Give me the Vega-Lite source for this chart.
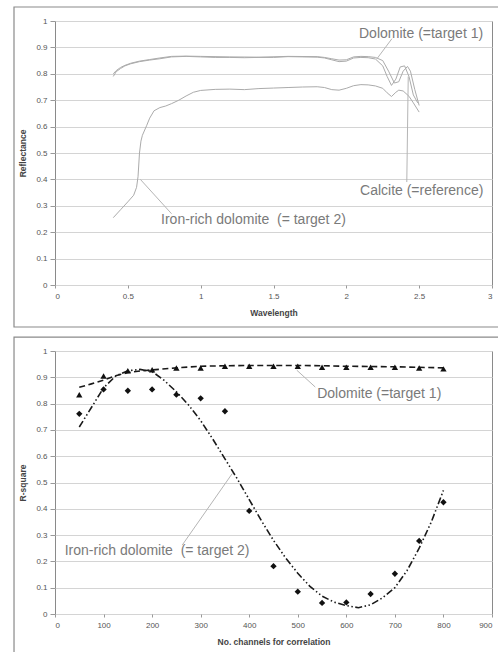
{
  "$schema": "https://vega.github.io/schema/vega-lite/v6.json",
  "padding": {"left": 12, "top": 5, "right": 0, "bottom": 0},
  "background": "white",
  "config": {
    "font": "Liberation Sans",
    "view": {"stroke": "#8a8a8a", "strokeWidth": 1},
    "axis": {
      "labelFont": "Liberation Sans", "labelFontSize": 8, "labelColor": "#555",
      "titleFont": "Liberation Sans", "titleFontSize": 8.5, "titleFontWeight": "bold", "titleColor": "#444",
      "domain": false, "tickColor": "#999", "gridColor": "#d4d4d4", "gridWidth": 1, "labelOverlap": false
    },
    "axisY": {"tickCount": 10}
  },
  "datasets": {
    "spectra": [
      {"series": "Dolomite", "wl": 0.40, "r": 0.790}, {"series": "Dolomite", "wl": 0.42, "r": 0.808}, {"series": "Dolomite", "wl": 0.45, "r": 0.820}, {"series": "Dolomite", "wl": 0.48, "r": 0.830}, {"series": "Dolomite", "wl": 0.52, "r": 0.838}, {"series": "Dolomite", "wl": 0.58, "r": 0.846}, {"series": "Dolomite", "wl": 0.65, "r": 0.852}, {"series": "Dolomite", "wl": 0.72, "r": 0.857}, {"series": "Dolomite", "wl": 0.80, "r": 0.864}, {"series": "Dolomite", "wl": 0.90, "r": 0.866}, {"series": "Dolomite", "wl": 1.00, "r": 0.864}, {"series": "Dolomite", "wl": 1.10, "r": 0.862}, {"series": "Dolomite", "wl": 1.20, "r": 0.862}, {"series": "Dolomite", "wl": 1.30, "r": 0.861}, {"series": "Dolomite", "wl": 1.40, "r": 0.862}, {"series": "Dolomite", "wl": 1.50, "r": 0.862}, {"series": "Dolomite", "wl": 1.60, "r": 0.865}, {"series": "Dolomite", "wl": 1.70, "r": 0.864}, {"series": "Dolomite", "wl": 1.80, "r": 0.863}, {"series": "Dolomite", "wl": 1.85, "r": 0.860}, {"series": "Dolomite", "wl": 1.90, "r": 0.853}, {"series": "Dolomite", "wl": 1.95, "r": 0.846}, {"series": "Dolomite", "wl": 2.00, "r": 0.848}, {"series": "Dolomite", "wl": 2.05, "r": 0.860}, {"series": "Dolomite", "wl": 2.10, "r": 0.862}, {"series": "Dolomite", "wl": 2.15, "r": 0.861}, {"series": "Dolomite", "wl": 2.20, "r": 0.856}, {"series": "Dolomite", "wl": 2.25, "r": 0.830}, {"series": "Dolomite", "wl": 2.28, "r": 0.790}, {"series": "Dolomite", "wl": 2.31, "r": 0.756}, {"series": "Dolomite", "wl": 2.34, "r": 0.780}, {"series": "Dolomite", "wl": 2.37, "r": 0.826}, {"series": "Dolomite", "wl": 2.40, "r": 0.830}, {"series": "Dolomite", "wl": 2.43, "r": 0.790}, {"series": "Dolomite", "wl": 2.46, "r": 0.720}, {"series": "Dolomite", "wl": 2.49, "r": 0.690},
      {"series": "Calcite", "wl": 0.40, "r": 0.800}, {"series": "Calcite", "wl": 0.42, "r": 0.812}, {"series": "Calcite", "wl": 0.45, "r": 0.824}, {"series": "Calcite", "wl": 0.48, "r": 0.832}, {"series": "Calcite", "wl": 0.52, "r": 0.840}, {"series": "Calcite", "wl": 0.58, "r": 0.848}, {"series": "Calcite", "wl": 0.65, "r": 0.854}, {"series": "Calcite", "wl": 0.72, "r": 0.860}, {"series": "Calcite", "wl": 0.80, "r": 0.866}, {"series": "Calcite", "wl": 0.90, "r": 0.867}, {"series": "Calcite", "wl": 1.00, "r": 0.866}, {"series": "Calcite", "wl": 1.20, "r": 0.864}, {"series": "Calcite", "wl": 1.40, "r": 0.863}, {"series": "Calcite", "wl": 1.60, "r": 0.866}, {"series": "Calcite", "wl": 1.80, "r": 0.865}, {"series": "Calcite", "wl": 1.85, "r": 0.862}, {"series": "Calcite", "wl": 1.90, "r": 0.857}, {"series": "Calcite", "wl": 1.95, "r": 0.852}, {"series": "Calcite", "wl": 2.00, "r": 0.853}, {"series": "Calcite", "wl": 2.05, "r": 0.864}, {"series": "Calcite", "wl": 2.10, "r": 0.866}, {"series": "Calcite", "wl": 2.15, "r": 0.865}, {"series": "Calcite", "wl": 2.20, "r": 0.862}, {"series": "Calcite", "wl": 2.25, "r": 0.850}, {"series": "Calcite", "wl": 2.29, "r": 0.810}, {"series": "Calcite", "wl": 2.33, "r": 0.765}, {"series": "Calcite", "wl": 2.36, "r": 0.770}, {"series": "Calcite", "wl": 2.39, "r": 0.810}, {"series": "Calcite", "wl": 2.42, "r": 0.828}, {"series": "Calcite", "wl": 2.44, "r": 0.810}, {"series": "Calcite", "wl": 2.47, "r": 0.740}, {"series": "Calcite", "wl": 2.50, "r": 0.680},
      {"series": "Iron-rich", "wl": 0.40, "r": 0.255}, {"series": "Iron-rich", "wl": 0.45, "r": 0.285}, {"series": "Iron-rich", "wl": 0.50, "r": 0.315}, {"series": "Iron-rich", "wl": 0.54, "r": 0.340}, {"series": "Iron-rich", "wl": 0.56, "r": 0.370}, {"series": "Iron-rich", "wl": 0.57, "r": 0.410}, {"series": "Iron-rich", "wl": 0.58, "r": 0.500}, {"series": "Iron-rich", "wl": 0.59, "r": 0.545}, {"series": "Iron-rich", "wl": 0.60, "r": 0.567}, {"series": "Iron-rich", "wl": 0.63, "r": 0.605}, {"series": "Iron-rich", "wl": 0.65, "r": 0.632}, {"series": "Iron-rich", "wl": 0.68, "r": 0.660}, {"series": "Iron-rich", "wl": 0.72, "r": 0.672}, {"series": "Iron-rich", "wl": 0.76, "r": 0.678}, {"series": "Iron-rich", "wl": 0.80, "r": 0.687}, {"series": "Iron-rich", "wl": 0.85, "r": 0.700}, {"series": "Iron-rich", "wl": 0.90, "r": 0.716}, {"series": "Iron-rich", "wl": 0.95, "r": 0.730}, {"series": "Iron-rich", "wl": 1.00, "r": 0.737}, {"series": "Iron-rich", "wl": 1.10, "r": 0.741}, {"series": "Iron-rich", "wl": 1.20, "r": 0.742}, {"series": "Iron-rich", "wl": 1.30, "r": 0.740}, {"series": "Iron-rich", "wl": 1.40, "r": 0.744}, {"series": "Iron-rich", "wl": 1.50, "r": 0.746}, {"series": "Iron-rich", "wl": 1.60, "r": 0.748}, {"series": "Iron-rich", "wl": 1.70, "r": 0.750}, {"series": "Iron-rich", "wl": 1.80, "r": 0.751}, {"series": "Iron-rich", "wl": 1.85, "r": 0.748}, {"series": "Iron-rich", "wl": 1.90, "r": 0.740}, {"series": "Iron-rich", "wl": 1.95, "r": 0.738}, {"series": "Iron-rich", "wl": 2.00, "r": 0.745}, {"series": "Iron-rich", "wl": 2.05, "r": 0.755}, {"series": "Iron-rich", "wl": 2.10, "r": 0.759}, {"series": "Iron-rich", "wl": 2.15, "r": 0.758}, {"series": "Iron-rich", "wl": 2.20, "r": 0.754}, {"series": "Iron-rich", "wl": 2.25, "r": 0.745}, {"series": "Iron-rich", "wl": 2.28, "r": 0.728}, {"series": "Iron-rich", "wl": 2.31, "r": 0.714}, {"series": "Iron-rich", "wl": 2.34, "r": 0.730}, {"series": "Iron-rich", "wl": 2.36, "r": 0.738}, {"series": "Iron-rich", "wl": 2.39, "r": 0.735}, {"series": "Iron-rich", "wl": 2.43, "r": 0.715}, {"series": "Iron-rich", "wl": 2.46, "r": 0.690}, {"series": "Iron-rich", "wl": 2.50, "r": 0.655}
    ],
    "topLabels": [
      {"label": "Dolomite (=target 1)", "wl": 2.087, "r": 0.951},
      {"label": "Calcite (=reference)", "wl": 2.094, "r": 0.356},
      {"label": "Iron-rich dolomite \u00a0(= target 2)", "wl": 0.728, "r": 0.246}
    ],
    "topLeaders": [
      {"wl": 2.313, "r": 0.933, "wl2": 2.21, "r2": 0.857},
      {"wl": 2.425, "r": 0.79, "wl2": 2.415, "r2": 0.39},
      {"wl": 0.586, "r": 0.40, "wl2": 0.80, "r2": 0.27}
    ],
    "frameTop": [
      {"x": -0.2815, "x2": 3.2, "y": 1.053, "y2": -0.159}
    ],
    "frameBottom": [
      {"x": -84.4, "x2": 960, "y": 1.053, "y2": -0.3}
    ],
    "points": [
      {"series": "Dolomite", "n": 50, "r2": 0.834}, {"series": "Dolomite", "n": 100, "r2": 0.905}, {"series": "Dolomite", "n": 150, "r2": 0.925}, {"series": "Dolomite", "n": 200, "r2": 0.929}, {"series": "Dolomite", "n": 250, "r2": 0.935}, {"series": "Dolomite", "n": 300, "r2": 0.935}, {"series": "Dolomite", "n": 350, "r2": 0.942}, {"series": "Dolomite", "n": 400, "r2": 0.942}, {"series": "Dolomite", "n": 450, "r2": 0.942}, {"series": "Dolomite", "n": 500, "r2": 0.942}, {"series": "Dolomite", "n": 550, "r2": 0.938}, {"series": "Dolomite", "n": 600, "r2": 0.938}, {"series": "Dolomite", "n": 650, "r2": 0.938}, {"series": "Dolomite", "n": 700, "r2": 0.938}, {"series": "Dolomite", "n": 750, "r2": 0.935}, {"series": "Dolomite", "n": 800, "r2": 0.932},
      {"series": "Iron-rich", "n": 50, "r2": 0.761}, {"series": "Iron-rich", "n": 100, "r2": 0.854}, {"series": "Iron-rich", "n": 150, "r2": 0.849}, {"series": "Iron-rich", "n": 200, "r2": 0.854}, {"series": "Iron-rich", "n": 250, "r2": 0.834}, {"series": "Iron-rich", "n": 300, "r2": 0.820}, {"series": "Iron-rich", "n": 350, "r2": 0.771}, {"series": "Iron-rich", "n": 400, "r2": 0.392}, {"series": "Iron-rich", "n": 450, "r2": 0.182}, {"series": "Iron-rich", "n": 500, "r2": 0.085}, {"series": "Iron-rich", "n": 550, "r2": 0.042}, {"series": "Iron-rich", "n": 600, "r2": 0.044}, {"series": "Iron-rich", "n": 650, "r2": 0.076}, {"series": "Iron-rich", "n": 700, "r2": 0.153}, {"series": "Iron-rich", "n": 750, "r2": 0.278}, {"series": "Iron-rich", "n": 800, "r2": 0.425}
    ],
    "trendDol": [
      {"n": 50, "r2": 0.862}, {"n": 75, "r2": 0.875}, {"n": 100, "r2": 0.889}, {"n": 125, "r2": 0.906}, {"n": 150, "r2": 0.918}, {"n": 175, "r2": 0.924}, {"n": 200, "r2": 0.928}, {"n": 250, "r2": 0.936}, {"n": 300, "r2": 0.942}, {"n": 350, "r2": 0.944}, {"n": 400, "r2": 0.945}, {"n": 450, "r2": 0.945}, {"n": 500, "r2": 0.945}, {"n": 550, "r2": 0.944}, {"n": 600, "r2": 0.942}, {"n": 650, "r2": 0.941}, {"n": 700, "r2": 0.940}, {"n": 750, "r2": 0.938}, {"n": 800, "r2": 0.936}
    ],
    "trendIron": [
      {"n": 50, "r2": 0.711}, {"n": 75, "r2": 0.785}, {"n": 100, "r2": 0.860}, {"n": 125, "r2": 0.905}, {"n": 150, "r2": 0.925}, {"n": 175, "r2": 0.930}, {"n": 200, "r2": 0.922}, {"n": 225, "r2": 0.888}, {"n": 250, "r2": 0.845}, {"n": 275, "r2": 0.795}, {"n": 300, "r2": 0.735}, {"n": 325, "r2": 0.665}, {"n": 350, "r2": 0.590}, {"n": 375, "r2": 0.515}, {"n": 400, "r2": 0.435}, {"n": 425, "r2": 0.355}, {"n": 450, "r2": 0.280}, {"n": 475, "r2": 0.213}, {"n": 500, "r2": 0.155}, {"n": 525, "r2": 0.105}, {"n": 550, "r2": 0.068}, {"n": 575, "r2": 0.045}, {"n": 600, "r2": 0.032}, {"n": 625, "r2": 0.024}, {"n": 650, "r2": 0.035}, {"n": 675, "r2": 0.062}, {"n": 700, "r2": 0.100}, {"n": 725, "r2": 0.165}, {"n": 750, "r2": 0.250}, {"n": 775, "r2": 0.350}, {"n": 800, "r2": 0.470}
    ],
    "bottomLabels": [
      {"label": "Dolomite (=target 1)", "n": 540, "r2": 0.838},
      {"label": "Iron-rich dolomite \u00a0(= target 2)", "n": 20, "r2": 0.24}
    ],
    "bottomLeaders": [
      {"n": 498, "r2": 0.927, "n2": 536, "r22": 0.863},
      {"n": 262, "r2": 0.262, "n2": 365, "r22": 0.534}
    ]
  },
  "bounds": "flush",
  "spacing": 66,
  "vconcat": [
    {
      "width": 437,
      "height": 264,
      "layer": [
        {
          "data": {"name": "spectra"},
          "mark": {"type": "line", "stroke": "#ababab", "strokeWidth": 1},
          "encoding": {
            "x": {"field": "wl", "type": "quantitative", "scale": {"domain": [0, 3], "nice": false},
              "axis": {"title": "Wavelength", "tickCount": 6, "format": "~g", "grid": false, "tickSize": 3, "labelPadding": 4, "titlePadding": 8}},
            "y": {"field": "r", "type": "quantitative", "scale": {"domain": [0, 1], "nice": false},
              "axis": {"title": "Reflectance", "tickCount": 10, "format": "~g", "grid": true, "tickSize": 5, "labelPadding": 3, "titlePadding": 8}},
            "detail": {"field": "series"}
          }
        },
        {
          "data": {"name": "topLeaders"},
          "mark": {"type": "rule", "stroke": "#b5b5b5", "strokeWidth": 1},
          "encoding": {
            "x": {"field": "wl", "type": "quantitative"},
            "y": {"field": "r", "type": "quantitative"},
            "x2": {"field": "wl2"},
            "y2": {"field": "r2"}
          }
        },
        {
          "data": {"name": "topLabels"},
          "mark": {"type": "text", "align": "left", "baseline": "middle", "fontSize": 14, "color": "#7a7a7a", "font": "Liberation Sans"},
          "encoding": {
            "x": {"field": "wl", "type": "quantitative"},
            "y": {"field": "r", "type": "quantitative"},
            "text": {"field": "label"}
          }
        },
        {
          "data": {"name": "frameTop"},
          "mark": {"type": "rect", "filled": false, "stroke": "#8a8a8a", "strokeWidth": 1.2, "clip": false},
          "encoding": {
            "x": {"field": "x", "type": "quantitative"},
            "x2": {"field": "x2"},
            "y": {"field": "y", "type": "quantitative"},
            "y2": {"field": "y2"}
          }
        }
      ]
    },
    {
      "width": 437,
      "height": 263,
      "layer": [
        {
          "data": {"name": "trendDol"},
          "mark": {"type": "line", "stroke": "#1a1a1a", "strokeWidth": 1.6, "strokeDash": [6, 3.5]},
          "encoding": {
            "x": {"field": "n", "type": "quantitative", "scale": {"domain": [0, 900], "nice": false},
              "axis": {"title": "No. channels for correlation", "tickCount": 9, "grid": false, "tickSize": 3, "labelPadding": 4, "titlePadding": 8}},
            "y": {"field": "r2", "type": "quantitative", "scale": {"domain": [0, 1], "nice": false},
              "axis": {"title": "R-square", "tickCount": 10, "format": "~g", "grid": true, "tickSize": 5, "labelPadding": 3, "titlePadding": 8}}
          }
        },
        {
          "data": {"name": "bottomLeaders"},
          "mark": {"type": "rule", "stroke": "#b5b5b5", "strokeWidth": 1},
          "encoding": {
            "x": {"field": "n", "type": "quantitative"},
            "y": {"field": "r2", "type": "quantitative"},
            "x2": {"field": "n2"},
            "y2": {"field": "r22"}
          }
        },
        {
          "data": {"name": "trendIron"},
          "mark": {"type": "line", "stroke": "#1a1a1a", "strokeWidth": 1.6, "strokeDash": [7, 2.5, 1.5, 2.5, 1.5, 2.5]},
          "encoding": {
            "x": {"field": "n", "type": "quantitative"},
            "y": {"field": "r2", "type": "quantitative"}
          }
        },
        {
          "data": {"name": "points"},
          "mark": {"type": "point", "filled": true, "opacity": 1, "color": "#111"},
          "encoding": {
            "x": {"field": "n", "type": "quantitative"},
            "y": {"field": "r2", "type": "quantitative"},
            "shape": {"field": "series", "type": "nominal", "scale": {"domain": ["Dolomite", "Iron-rich"], "range": ["triangle-up", "diamond"]}, "legend": null},
            "size": {"value": 40}
          }
        },
        {
          "data": {"name": "bottomLabels"},
          "mark": {"type": "text", "align": "left", "baseline": "middle", "fontSize": 14, "color": "#7a7a7a", "font": "Liberation Sans"},
          "encoding": {
            "x": {"field": "n", "type": "quantitative"},
            "y": {"field": "r2", "type": "quantitative"},
            "text": {"field": "label"}
          }
        },
        {
          "data": {"name": "frameBottom"},
          "mark": {"type": "rect", "filled": false, "stroke": "#8a8a8a", "strokeWidth": 1.2, "clip": false},
          "encoding": {
            "x": {"field": "x", "type": "quantitative"},
            "x2": {"field": "x2"},
            "y": {"field": "y", "type": "quantitative"},
            "y2": {"field": "y2"}
          }
        }
      ]
    }
  ]
}
